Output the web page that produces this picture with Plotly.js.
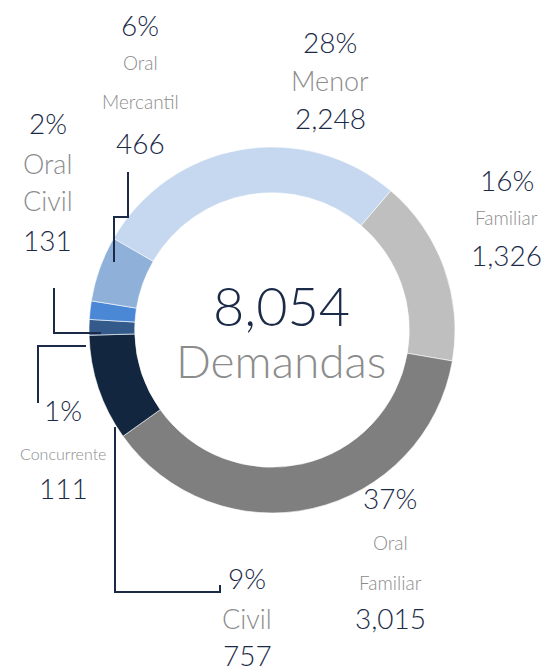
<!DOCTYPE html>
<html><head><meta charset="utf-8">
<script src="https://cdn.plot.ly/plotly-3.0.1.min.js"></script>
<style>html,body{margin:0;padding:0;background:#fff}</style>
</head><body><div id="chart" style="width:559px;height:671px"></div>
<script>
const categories = ["Menor","Familiar","Oral Familiar","Civil","Concurrente","Oral Civil","Oral Mercantil"];
const values = [2248,1326,3015,757,111,131,466];
const nameLines = [["Menor"],["Familiar"],["Oral","Familiar"],["Civil"],["Concurrente"],["Oral","Civil"],["Oral","Mercantil"]];
const colors = ["#c6d8f0","#bfbfbf","#7f7f7f","#13263f","#335a8a","#4a88d6","#8fb0d8"];
const centerTitle = "Demandas";

const W = 559, H = 671;
const px = x => x / W, py = y => 1 - y / H;
const navy = "#1b2a47", gray = "#8c8c8c";
const FONT = "Lato, 'Noto Sans', sans-serif";

const total = values.reduce((a,b)=>a+b,0);
const pct = v => Math.round(v/total*100) + "%";
const fmt = v => v.toLocaleString("en-US");

const labelPos = [
  {x:330, y:[42,80,118], ns:27},
  {x:507, y:[180,218,255], ns:19},
  {x:390, y:[498,542,582,618], ns:19},
  {x:247, y:[578,618,655], ns:27},
  {x:63,  y:[410,453,488], ns:16},
  {x:48,  y:[123,163,200,240], ns:27},
  {x:140, y:[25,63,102,143], ns:19}
];

const annotations = [];
const txt = (x,y,t,size,color)=>({x:px(x), y:py(y), xref:"paper", yref:"paper", text:t, showarrow:false,
  xanchor:"center", yanchor:"middle", font:{family:FONT,size:size,color:color,weight:300}});
categories.forEach((c,i)=>{
  const p = labelPos[i], ys = p.y;
  annotations.push(txt(p.x, ys[0], pct(values[i]), 28, navy));
  nameLines[i].forEach((n,k)=> annotations.push(txt(p.x, ys[1+k], n, p.ns, gray)));
  annotations.push(txt(p.x, ys[ys.length-1], fmt(values[i]), 28, navy));
});
annotations.push(txt(281, 305, fmt(total), 54, navy));
annotations.push(txt(281, 360, centerTitle, 46, gray));

const leader = pts => ({type:"path", xref:"paper", yref:"paper",
  path: pts.map((p,k)=>(k?"L":"M")+px(p[0])+","+py(p[1])).join(" "),
  line:{color:navy,width:2}});
const shapes = [
  leader([[128,172],[128,217],[114,217],[114,262]]),
  leader([[54,288],[54,333],[101,333]]),
  leader([[38,403],[38,346],[86,346]]),
  leader([[115,427],[115,592],[220,592],[220,585]])
];

const trace = {
  type:"pie", labels:categories, values:values, hole:0.75, sort:false,
  direction:"clockwise", rotation:-60, textinfo:"none", hoverinfo:"none",
  marker:{colors:colors, line:{color:"#ffffff", width:0.6}},
  domain:{x:[89/W, 455/W], y:[(H-513)/H, (H-147)/H]}
};

Plotly.newPlot("chart",[trace],{
  width:W, height:H, margin:{l:0,r:0,t:0,b:0}, showlegend:false,
  paper_bgcolor:"#fff", plot_bgcolor:"#fff",
  annotations:annotations, shapes:shapes
},{displayModeBar:false, staticPlot:true});
</script></body></html>
